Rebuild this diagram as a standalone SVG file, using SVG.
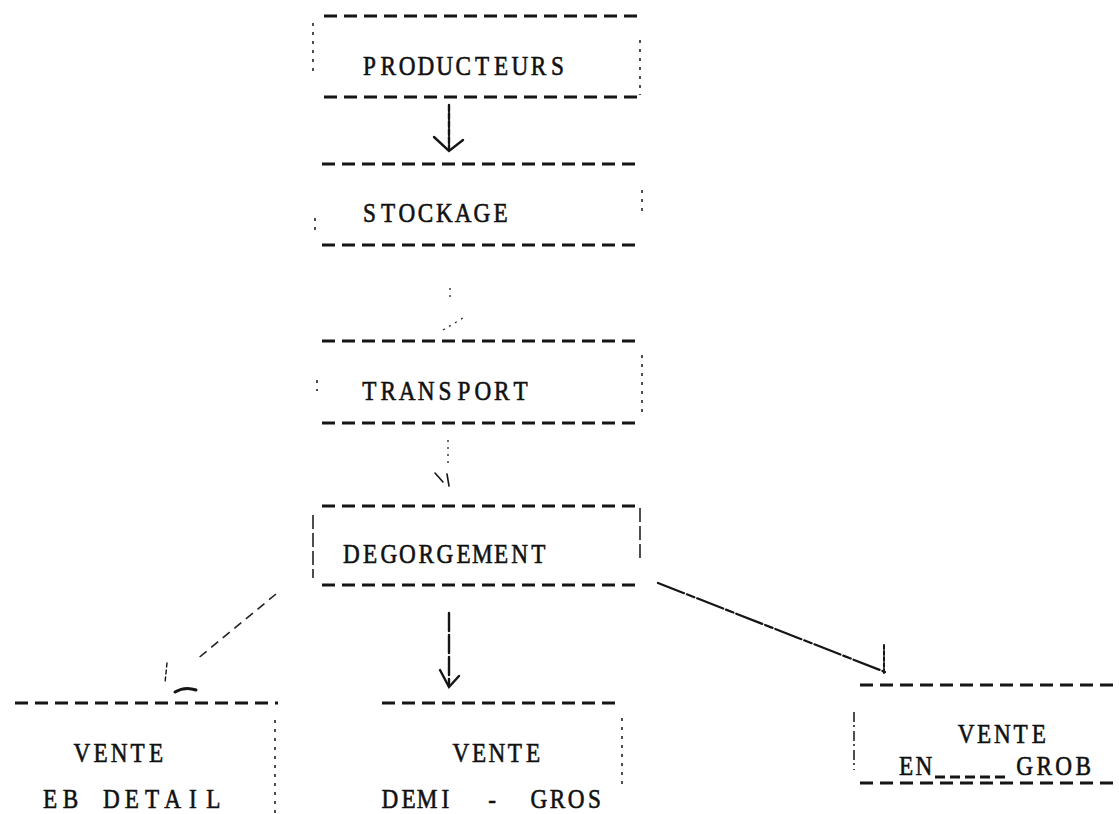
<svg xmlns="http://www.w3.org/2000/svg" width="1119" height="814" viewBox="0 0 1119 814">
<style>
.d{fill:none;stroke:#151515;stroke-width:3;stroke-dasharray:13 7}
.s{fill:none;stroke:#222;stroke-width:1.6;stroke-dasharray:3 6}
.t{font-family:"Liberation Serif","Times New Roman",serif;font-size:27px;fill:#111;stroke:#111;stroke-width:0.6;text-anchor:middle}
.c{fill:none;stroke:#151515;stroke-width:2.4;stroke-linecap:round}
.f{fill:none;stroke:#333;stroke-width:1.4;stroke-dasharray:2 5}
.g{fill:none;stroke:#222;stroke-width:1.6;stroke-dasharray:9 6}
</style>
<rect width="1119" height="814" fill="#ffffff"/>
<g id="producteurs">
<path class="d" d="M324 16H642M324 97H642"/>
<path class="s" d="M313 23V77M640 40V95"/>
<text class="t" transform="scale(0.86 1)" x="429.5 451.4 473.3 495.1 517 538.8 560.7 582.6 604.4 626.3 648.1" y="75">PRODUCTEURS</text>
</g>
<g id="stockage">
<path class="d" d="M322 164H642M322 245H642"/>
<path class="s" d="M315 218V235M642 190V215"/>
<text class="t" transform="scale(0.86 1)" x="429.5 451.3 473.1 494.9 516.7 538.5 560.3 582.1" y="222">STOCKAGE</text>
</g>
<g id="transport">
<path class="d" d="M322 341H642M322 423H642"/>
<path class="s" d="M317 380V391M642 355V418"/>
<text class="t" transform="scale(0.86 1)" x="429.5 451.5 473.5 495.5 517.4 539.4 561.4 583.4 605.3" y="400">TRANSPORT</text>
</g>
<g id="degorgement">
<path class="d" d="M322 506H642M322 585H642"/>
<path class="s" d="M313 515V578M640 508V562" style="stroke-dasharray:14 4"/>
<text class="t" transform="scale(0.86 1)" x="408.6 430.3 452.1 473.8 495.6 517.3 539.1 560.8 582.6 604.3 626" y="563">DEGORGEMENT</text>
</g>
<g id="vente-detail">
<path class="d" d="M15 703H278"/>
<path class="s" d="M275 720V814"/>
<text class="t" transform="scale(0.86 1)" x="95.3 116.9 138.4 159.9 181.4" y="762">VENTE</text>
<text class="t" transform="scale(0.86 1)" x="58.4 82.1 105.8 129.5 153.3 177 200.7 224.4 248.1" y="808">EB DETAIL</text>
</g>
<g id="vente-demi-gros">
<path class="d" d="M382 703H622"/>
<path class="s" d="M622 718V788"/>
<text class="t" transform="scale(0.86 1)" x="536 557 577.9 598.8 619.8" y="762">VENTE</text>
<text class="t" transform="scale(0.86 1)" x="453.5 475 496.5 518 545.3 572.1 598.8 626.7 648.3 669.8 691.3" y="808">DEMI - GROS</text>
</g>
<g id="vente-gros">
<path class="d" d="M860 685H1119M860 783H1119"/>
<path class="d" d="M935 777H1010" style="stroke-dasharray:10 5"/>
<path class="s" d="M854 712V770" style="stroke-dasharray:10 3 2 4"/>
<text class="t" transform="scale(0.86 1)" x="1123.3 1144.4 1165.6 1186.7 1207.9" y="743">VENTE</text>
<text class="t" transform="scale(0.86 1)" x="1053.5 1074.4 1122.1 1191.5 1214.2 1236.9 1259.5" y="775">EN GROB</text>
</g>
<g id="connectors">
<path class="c" d="M449 105V150" style="stroke-dasharray:6 2"/>
<path class="c" d="M434 137L449 151L463 140"/>
<path class="f" d="M450 288V298M443 330L463 318"/>
<path class="f" d="M448 440V466"/>
<path class="c" d="M435 473L443 482M447 474L449 486" style="stroke-width:1.6"/>
<path class="c" d="M449 613V686" style="stroke-dasharray:18 4"/>
<path class="c" d="M440 670L449 687L459 676"/>
<path class="g" d="M276 594L196 660"/>
<path class="c" d="M167 663L165 683" style="stroke-width:1.4;stroke-dasharray:4 3"/>
<path class="c" d="M175 692Q185 686 196 690" style="stroke-width:3"/>
<path class="c" d="M658 583L885 672" style="stroke-width:2.2;stroke-dasharray:28 3 8 3"/>
<path class="c" d="M884 645V675" style="stroke-width:2;stroke-dasharray:4 2"/>
</g>
</svg>
